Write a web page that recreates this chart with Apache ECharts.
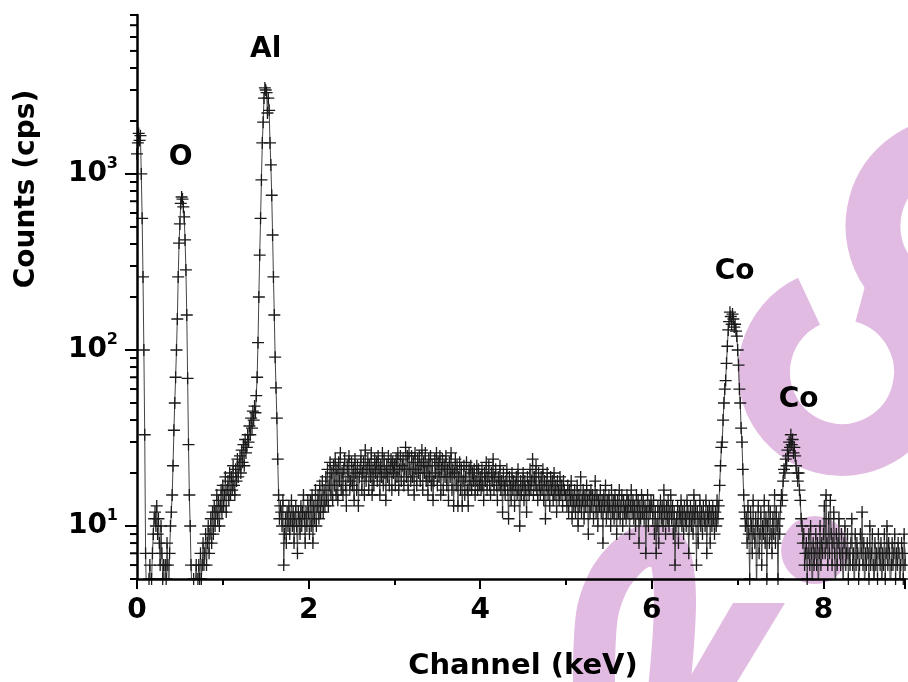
<!DOCTYPE html>
<html><head><meta charset="utf-8">
<script src="https://cdn.jsdelivr.net/npm/echarts@6/dist/echarts.min.js"></script>
<style>html,body{margin:0;padding:0;background:#fff}#c{width:908px;height:682px}</style>
</head><body><div id="c"></div>
<script>
// channel energies (keV): channelStart + i*channelStep
const channelStart = 0, channelStep = 0.01;
// counts per channel, one array per keV
const counts0 = [1300,1500,1700,1550,1650,1000,560,260,100,33,
 7,4,4,4,5,6,4,5,7,9, 11,12,10,13,9,11,8,6,10,7, 5,6,4,6,5,8,6,4,7,10,
 12,15,22,35,50,70,100,150,260,405, 520,680,740,720,650,570,422,285,158,69,
 29,15,10,6,4,4,5,4,4,6, 4,5,6,5,7,5,6,8,6,7, 9,6,8,10,7,9,11,8,12,9, 13,10,12,15,11,14,10,13,16,12];
const counts1 = [17,13,15,19,12,16,18,14,20,15, 19,16,22,17,15,21,18,24,19,22,
 25,20,27,23,29,22,31,26,28,33, 30,37,33,41,36,45,40,48,44,55,
 70,110,200,346,560,925,1500,1970,2700,3080, 3000,2900,2220,2700,2300,1500,1125,757,450,260,
 158,91,61,41,24,15,11,13,12,10, 14,6,9,11,8,12,10,13,9,11, 14,10,12,8,11,13,10,7,12,11, 9,13,10,12,15,11,8,12,10,14];
const counts2 = [12,9,14,10,15,8,13,11,16,10, 13,15,11,17,12,14,18,12,16,13,
 19,14,21,13,17,23,15,20,14,22, 17,24,15,21,14,23,18,26,16,20, 15,21,24,17,13,22,19,25,16,18,
 23,17,21,14,24,20,16,22,13,19, 21,25,16,20,23,15,27,18,21,24, 16,22,19,26,15,21,17,24,20,23,
 18,25,21,15,22,19,26,17,24,20, 14,22,19,25,17,21,24,16,23,20];
const counts3 = [22,17,24,19,26,16,21,25,18,22, 24,17,21,28,19,25,16,26,21,18,
 25,19,23,15,26,21,17,24,20,25, 18,22,27,16,23,20,26,18,22,15, 24,19,25,17,22,14,18,24,20,26,
 17,23,19,25,15,21,24,16,22,19, 25,17,21,14,23,19,26,16,21,13, 20,24,17,22,13,19,23,16,21,13,
 18,22,15,19,23,16,13,21,17,22, 16,20,18,21,15,18,22,16,21,17];
const counts4 = [19,16,21,17,14,20,18,23,16,19, 22,17,15,20,18,24,16,19,21,17,
 14,19,17,22,16,18,12,20,17,15, 18,21,16,11,19,17,14,20,16,18, 13,17,19,15,21,16,10,18,15,17,
 20,14,18,16,12,19,17,15,21,16, 18,24,15,19,17,22,16,14,20,17, 15,19,16,21,14,18,11,17,20,15,
 17,13,19,16,18,14,20,15,17,12, 18,16,14,19,15,17,13,18,16,15];
const counts5 = [15,13,17,12,16,14,18,11,15,13, 16,12,14,17,10,15,13,19,12,14,
 16,11,15,13,17,14,9,15,12,16, 13,15,11,14,18,12,15,10,14,13, 16,12,14,8,15,13,17,11,14,12,
 15,13,10,16,12,14,11,15,13,9, 14,12,16,11,13,15,10,14,12,13, 11,15,12,14,9,13,16,12,14,11,
 13,10,15,12,14,8,13,11,15,12, 14,11,13,7,12,15,10,13,12,14];
const counts6 = [13,11,14,9,12,7,10,13,8,12, 14,11,13,10,16,12,9,13,11,14,
 10,12,15,11,13,9,12,6,10,11, 13,8,12,11,14,10,12,9,13,11, 10,14,12,7,11,13,10,12,9,15,
 11,13,6,12,8,11,14,10,12,9, 13,11,10,14,7,12,11,13,8,12, 10,13,11,9,12,10,14,11,13,17,
 22,28,30,40,50,60,67,84,105,130, 145,164,155,140,160,150,135,140,128,120];
const counts7 = [100,82,60,50,36,30,21,15,12,10, 11,8,13,9,5,12,10,7,14,9,
 8,11,4,10,13,7,9,12,6,10, 9,14,8,11,5,10,13,8,12,9, 7,11,9,15,8,12,10,5,11,9,
 13,15,14,18,21,20,24,22,27,25, 30,28,33,29,31,26,28,25,22,20, 18,20,16,14,11,10,8,9,6,7,
 8,5,7,9,6,10,7,4,8,6, 7,9,6,8,4,7,10,6,8,7];
const counts8 = [9,13,7,15,8,6,11,7,14,9, 6,8,12,7,4,9,6,8,11,7,
 6,9,7,4,8,10,6,7,9,5, 7,6,8,11,6,7,4,9,6,8, 7,5,6,9,7,12,6,8,4,7,
 6,8,7,5,10,6,7,9,6,4, 8,6,7,5,9,7,6,8,4,7, 6,9,5,7,10,6,8,7,4,6,
 8,6,7,9,5,7,6,8,7,4, 6,8,7,5,9,6,7,8,6,7];

const xTickLabels = ['0','2','4','6','8'];
const yMajorTicks = [10, 100, 1000];
const yMinorTicks = [5,6,7,8,9,20,30,40,50,60,70,80,90,200,300,400,500,600,700,800,900,2000,3000,4000,5000,6000,7000,8000];
const peakNames = ['O', 'Al', 'Co', 'Co'];
const peakEnergy = [0.51, 1.50, 6.965, 7.71];
const peakCounts = [1233, 5070, 277, 52];

const counts = [].concat(counts0, counts1, counts2, counts3, counts4, counts5, counts6, counts7, counts8);
const spectrum = counts.map((c, i) => [+(channelStart + i * channelStep).toFixed(2), c]);

const FONT = 'DejaVu Sans';
const PINK = '#e2bbe2';
const D = Math.PI / 180;
const CROSS = 'path://M5.35,0H6.65V5.35H12V6.65H6.65V12H5.35V6.65H0V5.35H5.35Z';

const chart = echarts.init(document.getElementById('c'), null, {renderer: 'canvas'});
chart.setOption({
  animation: false,
  backgroundColor: '#fff',
  grid: {left: 137, right: 0, top: 15, bottom: 103},
  xAxis: {
    type: 'value', min: 0, max: 8.95, interval: 2, z: 5,
    axisLine: {lineStyle: {color: '#000', width: 2.5}},
    axisTick: {length: 10, lineStyle: {color: '#000', width: 2}},
    minorTick: {show: true, splitNumber: 2, length: 6, lineStyle: {color: '#000', width: 2}},
    splitLine: {show: false},
    axisLabel: {margin: 18, fontFamily: FONT, fontWeight: 'bold', fontSize: 28, color: '#000',
      formatter: v => xTickLabels.includes(String(v)) ? String(v) : ''}
  },
  yAxis: {
    type: 'log', logBase: 10, min: 5, max: 8000, z: 5,
    axisLine: {lineStyle: {color: '#000', width: 2.5}},
    axisTick: {show: false}, splitLine: {show: false},
    axisLabel: {
      margin: 19,
      formatter: v => {
        const e = Math.round(Math.log10(v));
        return yMajorTicks.includes(Math.round(v)) && Math.abs(Math.pow(10, e) - v) < 1e-6 ? '{b|10}{s|' + e + '}' : '';
      },
      rich: {
        b: {fontFamily: FONT, fontWeight: 'bold', fontSize: 28, lineHeight: 36, color: '#000'},
        s: {fontFamily: FONT, fontWeight: 'bold', fontSize: 16, lineHeight: 14, verticalAlign: 'top', color: '#000'}
      }
    }
  },
  graphic: [
    {type: 'arc', z: 0, silent: true, shape: {cx: 955, cy: 226, r: 82, startAngle: 100 * D, endAngle: 270 * D, clockwise: true}, style: {stroke: PINK, lineWidth: 55, fill: null}},
    {type: 'arc', z: 0, silent: true, shape: {cx: 842, cy: 372, r: 78, startAngle: -75 * D, endAngle: 245 * D, clockwise: true}, style: {stroke: PINK, lineWidth: 52, fill: null}},
    {type: 'polyline', z: 0, silent: true, shape: {points: [[594, 700], [597, 615], [612, 575], [640, 548], [667, 550], [675, 600], [668, 700]], smooth: 0.3}, style: {stroke: PINK, lineWidth: 42, fill: null}},
    {type: 'polygon', z: 0, silent: true, shape: {points: [[733, 603], [785, 603], [737, 682], [687, 682]]}, style: {fill: PINK}},
    {type: 'circle', z: 0, silent: true, shape: {cx: 815, cy: 550, r: 34}, style: {fill: PINK}},
    {type: 'text', z: 10, x: 27, y: 189, rotation: Math.PI / 2,
      style: {text: 'Counts (cps)', fontFamily: FONT, fontWeight: 'bold', fontSize: 28, fill: '#000', textAlign: 'center', textVerticalAlign: 'middle', verticalAlign: 'middle'}},
    {type: 'text', z: 10, x: 523, y: 666,
      style: {text: 'Channel (keV)', fontFamily: FONT, fontWeight: 'bold', fontSize: 29, fill: '#000', textAlign: 'center', textVerticalAlign: 'middle', verticalAlign: 'middle'}}
  ],
  series: [
    {
      type: 'line', data: spectrum, z: 3, silent: true, clip: true,
      showSymbol: true, symbol: CROSS, symbolSize: 12,
      itemStyle: {color: '#1a1a1a'},
      lineStyle: {color: '#444', width: 1}
    },
    {
      type: 'custom', coordinateSystem: 'cartesian2d', clip: false, silent: true, z: 6,
      data: yMajorTicks.map(v => [0, v, 12]).concat(yMinorTicks.map(v => [0, v, 7])),
      renderItem: (params, api) => {
        const p = api.coord([api.value(0), api.value(1)]);
        const len = api.value(2);
        return {type: 'line', shape: {x1: p[0] - len, y1: p[1], x2: p[0], y2: p[1]}, style: {stroke: '#000', lineWidth: 2}};
      }
    },
    {
      type: 'custom', coordinateSystem: 'cartesian2d', clip: false, silent: true, z: 7,
      data: peakNames.map((n, i) => [peakEnergy[i], peakCounts[i], i]),
      renderItem: (params, api) => {
        const p = api.coord([api.value(0), api.value(1)]);
        return {type: 'text', x: p[0], y: p[1], style: {
          text: peakNames[api.value(2)], font: 'bold 28px "DejaVu Sans"', fill: '#000',
          align: 'center', textAlign: 'center', verticalAlign: 'middle', textVerticalAlign: 'middle'}};
      }
    }
  ]
});
</script>
</body></html>
